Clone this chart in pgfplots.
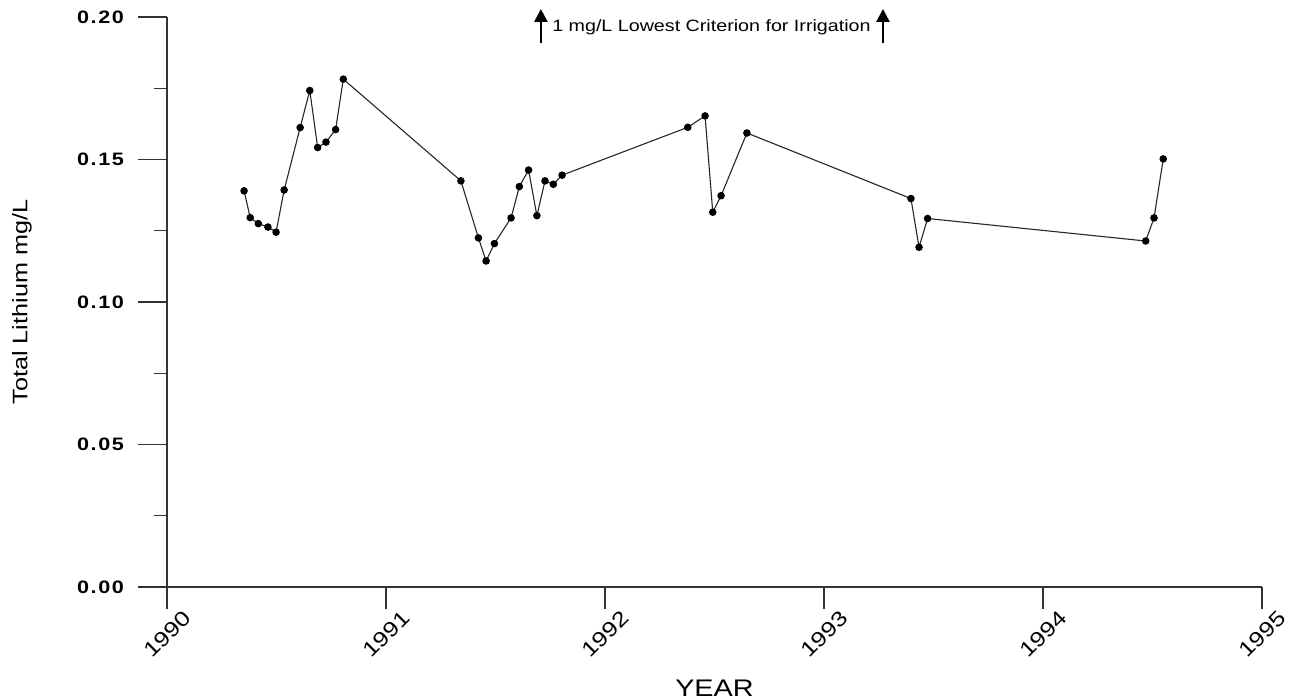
\documentclass[border=0pt]{standalone}
\usepackage{fontspec}
\setmainfont{Liberation Sans}[FakeStretch=1.2]
\usepackage{pgfplots}
\pgfplotsset{compat=1.18}
\usetikzlibrary{arrows.meta}
\begin{document}
\begin{tikzpicture}
\path[use as bounding box] (-83.5pt,-56.5pt) rectangle (568.5pt,293.5pt);
\begin{axis}[
  scale only axis,
  width=547.5pt, height=285pt,
  xmin=0, xmax=5, ymin=0, ymax=0.2,
  axis lines*=left,
  axis line style={-, line width=0.6pt, black!80},
  x axis line style={shorten <=-8.5pt},
  y axis line style={shorten <=-5.5pt},
  clip=false,
  tick align=outside,
  xtick={0,1,2,3,4,5},
  xticklabels={1990,1991,1992,1993,1994,1995},
  xtick style={draw=none},
  ytick={0,0.05,0.1,0.15,0.2},
  minor ytick={0.025,0.075,0.125,0.175},
  major tick length=14.5pt,
  minor tick length=6.5pt,
  ytick style={line width=0.6pt, black!80},
  minor tick style={line width=0.6pt, black!80},
  /pgf/number format/assume math mode=true,
  xticklabel style={font=\fontsize{10.5}{12}\selectfont, yshift=-9pt, rotate=45, anchor=center},
  yticklabel style={font=\fontsize{9}{10}\selectfont\bfseries\addfontfeature{LetterSpace=9}, xshift=-3.5pt, /pgf/number format/fixed, /pgf/number format/fixed zerofill, /pgf/number format/precision=2},
  xlabel={YEAR},
  xlabel style={font=\fontsize{12}{14}\selectfont, at={(axis description cs:0.5,0)}, anchor=center, yshift=-50.5pt},
  ylabel={Total Lithium mg/L},
  ylabel style={font=\fontsize{10.5}{12}\selectfont, at={(axis description cs:-0.1324,0.5)}, anchor=center},
]
% x = years after 1990
\addplot[black!85, line width=0.55pt, mark=*, mark size=1.6pt, mark options={fill=black, draw=black}] coordinates {
(0.352,0.1390)
(0.380,0.1296)
(0.417,0.1275)
(0.461,0.1263)
(0.498,0.1245)
(0.535,0.1393)
(0.608,0.1612)
(0.652,0.1742)
(0.688,0.1542)
(0.726,0.1561)
(0.770,0.1605)
(0.805,0.1782)
(1.342,0.1425)
(1.422,0.1225)
(1.457,0.1144)
(1.495,0.1205)
(1.571,0.1295)
(1.609,0.1405)
(1.651,0.1463)
(1.689,0.1303)
(1.726,0.1425)
(1.764,0.1413)
(1.804,0.1445)
(2.378,0.1613)
(2.457,0.1653)
(2.492,0.1315)
(2.530,0.1373)
(2.648,0.1593)
(3.397,0.1363)
(3.434,0.1192)
(3.473,0.1293)
(4.469,0.1214)
(4.507,0.1295)
(4.549,0.1502)
};
\pgfplotsinvokeforeach{0,1,2,3,4,5}{
  \draw[line width=0.6pt, black!80] (axis cs:#1,0) -- ++(0,-11pt);
}
\node[font=\fontsize{8.2}{10}\selectfont, inner sep=0pt] (crit) at (axis cs:2.486,0.1965) {1 mg/L Lowest Criterion for Irrigation};
\draw[-{Triangle[width=6.5pt,length=6.5pt]}, line width=1.3pt] ([xshift=-5.5pt]crit.west) ++(0,-8pt) -- ++(0,17pt);
\draw[-{Triangle[width=6.5pt,length=6.5pt]}, line width=1.3pt] ([xshift=6pt]crit.east) ++(0,-8pt) -- ++(0,17pt);
\end{axis}
\end{tikzpicture}
\end{document}
